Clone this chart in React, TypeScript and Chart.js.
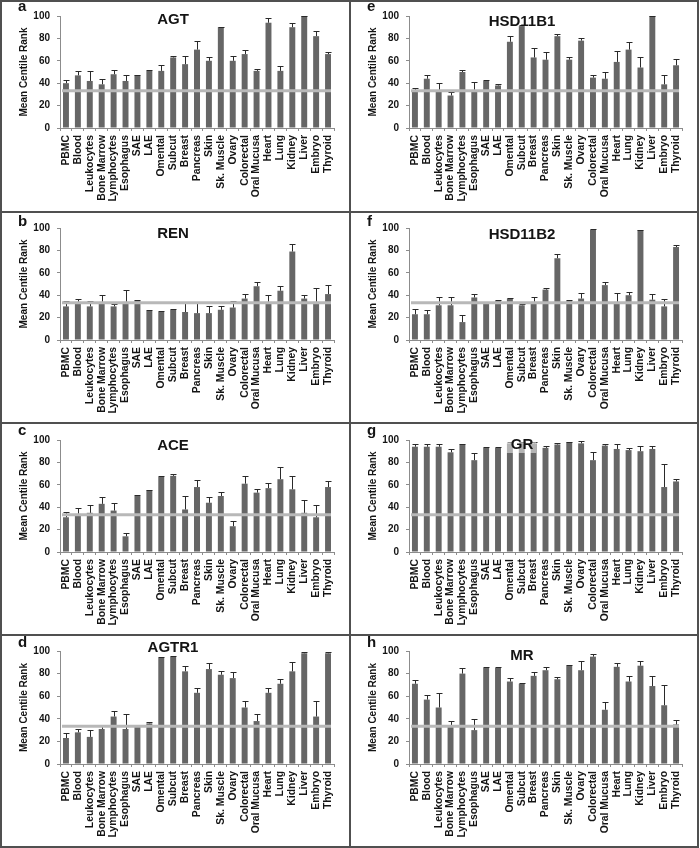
import React, { useEffect, useRef } from "react";
import { Chart, registerables } from "chart.js";
Chart.register(...registerables);

const tissues = ["PBMC", "Blood", "Leukocytes", "Bone Marrow", "Lymphocytes", "Esophagus", "SAE", "LAE", "Omental", "Subcut", "Breast", "Pancreas", "Skin", "Sk. Muscle", "Ovary", "Colorectal", "Oral Mucusa", "Heart", "Lung", "Kidney", "Liver", "Embryo", "Thyroid"];
const yTickStep = 20;
const yMax = 100;
const baselineValue = 33.3;

const agtMean = [40, 47, 42, 39, 48, 42, 47, 51, 51, 63, 57, 70, 60, 90, 60, 66, 51, 94, 51, 90, 100, 82, 66];
const agtUpper = [43, 51, 51, 44, 52, 47, 47.5, 51.5, 56, 64, 64, 78, 63, 90.5, 64, 70, 53, 98, 55, 94, 100, 87, 68];

const renMean = [30, 34, 30, 34, 30, 34, 35, 26, 25, 27, 25, 24, 24, 27, 29, 37, 48, 34, 44, 79, 37, 34, 41];
const renUpper = [35, 37, 35, 40, 32, 45, 35.5, 26.5, 25.5, 28, 33, 33, 30, 30, 35, 41, 52, 40, 48, 86, 40, 46, 49];

const aceMean = [31, 34, 35, 43, 37, 14, 50, 55, 67, 68, 38, 58, 44, 50, 23, 61, 53, 57, 65, 56, 35, 31, 58];
const aceUpper = [36, 39, 42, 49, 44, 17, 51, 55.5, 68, 70, 50, 64, 49, 54, 28, 68, 56, 62, 76, 68, 46, 42, 63];

const agtr1Mean = [23, 28, 24, 31, 42, 31, 33, 36, 94, 95, 82, 63, 84, 79, 76, 50, 38, 63, 71, 82, 98, 42, 98];
const agtr1Upper = [27, 31, 30, 34, 47, 44, 33.5, 37, 94.5, 95.5, 87, 67, 89, 82, 81, 56, 44, 67, 75, 90, 99, 56, 99];

const hsd11b1Mean = [33, 44, 33, 29, 50, 33, 42, 38, 77, 91, 63, 61, 82, 61, 78, 45, 44, 59, 70, 54, 100, 39, 56];
const hsd11b1Upper = [36, 47, 40, 32, 52, 41, 42.5, 39, 82, 92, 71, 68, 84, 63, 80, 47, 50, 69, 77, 63, 100, 47, 62];

const hsd11b2Mean = [23, 23, 31, 31, 16, 38, 33, 35, 37, 31, 34, 45, 73, 35, 37, 98.5, 49, 34, 40, 98, 36, 30, 83];
const hsd11b2Upper = [28, 27, 38, 38, 22, 41, 33.5, 36, 37.5, 32, 38, 46, 77, 35.5, 42, 99, 52, 42, 43, 98.5, 41, 37, 85];

const grMean = [94, 94, 94, 89, 96, 82, 93, 93, 97, 97, 97, 93, 96, 98, 97, 82, 95, 92, 91, 90, 92, 58, 63];
const grUpper = [96, 96, 96, 92, 96.5, 88, 93.5, 93.5, 98, 98, 98, 95, 97, 98.5, 99, 89, 96, 96, 93, 95, 95, 79, 65];

const mrMean = [71, 57, 50, 34, 80, 30, 85, 85, 73, 71, 78, 83, 75, 87, 83, 95, 48, 86, 73, 87, 69, 52, 35];
const mrUpper = [74, 61, 63, 38, 85, 40, 85.5, 85.5, 76, 72, 81, 86, 77, 88, 91, 97, 55, 89, 78, 91, 78, 70, 39];

const FONT = "'Liberation Sans', Arial, sans-serif";
const BAR = "#666666";
const AXIS = "#8c8c8c";
const TEXT = "#141414";
const LINE = "#505050";

type PanelCfg = {
  letter: string; title: string; mean: number[]; upper: number[];
  col: number; row: number; titleY: number; letterY: number; titleBox: boolean;
};

const panels: PanelCfg[] = [
  { letter: "a", title: "AGT", mean: agtMean, upper: agtUpper, col: 0, row: 0, titleY: 17, letterY: 9, titleBox: false },
  { letter: "b", title: "REN", mean: renMean, upper: renUpper, col: 0, row: 1, titleY: 20, letterY: 13, titleBox: false },
  { letter: "c", title: "ACE", mean: aceMean, upper: aceUpper, col: 0, row: 2, titleY: 21, letterY: 11, titleBox: false },
  { letter: "d", title: "AGTR1", mean: agtr1Mean, upper: agtr1Upper, col: 0, row: 3, titleY: 11, letterY: 11, titleBox: false },
  { letter: "e", title: "HSD11B1", mean: hsd11b1Mean, upper: hsd11b1Upper, col: 1, row: 0, titleY: 19, letterY: 9, titleBox: false },
  { letter: "f", title: "HSD11B2", mean: hsd11b2Mean, upper: hsd11b2Upper, col: 1, row: 1, titleY: 21, letterY: 13, titleBox: false },
  { letter: "g", title: "GR", mean: grMean, upper: grUpper, col: 1, row: 2, titleY: 20, letterY: 11, titleBox: true },
  { letter: "h", title: "MR", mean: mrMean, upper: mrUpper, col: 1, row: 3, titleY: 19, letterY: 11, titleBox: false },
];

const rowTops = [0, 211, 422, 634, 846];
const plotTops = [14, 15, 16, 15];
const plotBottoms = [126, 127, 128, 128];
const colLefts = [0, 349, 697];

function Panel({ cfg }: { cfg: PanelCfg }) {
  const ref = useRef<HTMLCanvasElement>(null);
  const left = colLefts[cfg.col] + 2;
  const width = colLefts[cfg.col + 1] - colLefts[cfg.col] - 2;
  const top = rowTops[cfg.row] + 2;
  const height = rowTops[cfg.row + 1] - rowTops[cfg.row] - 2;
  const plotTop = plotTops[cfg.row];
  const plotBottom = plotBottoms[cfg.row];

  useEffect(() => {
    if (!ref.current) return;
    const overlay = {
      id: "overlay",
      afterDatasetsDraw(chart: any) {
        const ctx = chart.ctx;
        const ys = chart.scales.y;
        const meta = chart.getDatasetMeta(0);
        const area = chart.chartArea;
        ctx.save();
        // error bars
        ctx.strokeStyle = "#2a2a2a";
        ctx.lineWidth = 1;
        meta.data.forEach((bar: any, i: number) => {
          const x = Math.round(bar.x) + 0.5;
          const y0 = ys.getPixelForValue(cfg.mean[i]);
          const y1 = Math.round(ys.getPixelForValue(cfg.upper[i])) + 0.5;
          ctx.beginPath();
          ctx.moveTo(x, y0);
          ctx.lineTo(x, y1);
          ctx.moveTo(x - 3, y1);
          ctx.lineTo(x + 3, y1);
          ctx.stroke();
        });
        // reference line
        const yb = ys.getPixelForValue(baselineValue);
        ctx.strokeStyle = "#b8b8b8";
        ctx.lineWidth = 3;
        ctx.beginPath();
        ctx.moveTo(area.left + 2, yb);
        ctx.lineTo(area.right - 3, yb);
        ctx.stroke();
        // title
        ctx.font = `bold 15px ${FONT}`;
        const tw = ctx.measureText(cfg.title).width;
        const tx = 171;
        if (cfg.titleBox) {
          ctx.fillStyle = "rgba(255,255,255,0.5)";
          ctx.fillRect(tx - tw / 2 - 5, cfg.titleY - 9, tw + 8, 18);
        }
        ctx.fillStyle = TEXT;
        ctx.textAlign = "center";
        ctx.textBaseline = "middle";
        ctx.fillText(cfg.title, tx, cfg.titleY + 1);
        // panel letter
        ctx.font = `bold 15px ${FONT}`;
        ctx.textAlign = "left";
        ctx.textBaseline = "alphabetic";
        ctx.fillText(cfg.letter, 16, cfg.letterY);
        ctx.restore();
      },
    };
    const tickFont = { family: FONT, weight: "bold" as const, size: 10 };
    const xFont = { family: FONT, weight: "bold" as const, size: 10.4 };
    const chart = new Chart(ref.current, {
      type: "bar",
      data: {
        labels: tissues,
        datasets: [{ data: cfg.mean, backgroundColor: BAR, barPercentage: 0.5, categoryPercentage: 1 }],
      },
      options: {
        animation: false,
        responsive: false,
        devicePixelRatio: 1,
        layout: { padding: { top: plotTop, right: 15, left: 0, bottom: 0 } },
        plugins: { legend: { display: false }, tooltip: { enabled: false }, title: { display: false } },
        scales: {
          x: {
            grid: { offset: true, drawOnChartArea: false, drawTicks: true, tickLength: 3, color: AXIS },
            border: { color: AXIS, width: 1 },
            ticks: { autoSkip: false, maxRotation: 90, minRotation: 90, padding: 4, color: TEXT, font: xFont },
            afterFit: (s: any) => { s.height = height - plotBottom; },
          },
          y: {
            min: 0,
            max: yMax,
            grid: { drawOnChartArea: false, drawTicks: true, tickLength: 3, color: AXIS },
            border: { color: AXIS, width: 1 },
            ticks: { stepSize: yTickStep, padding: 7, color: TEXT, font: tickFont },
            title: { display: true, text: "Mean Centile Rank", color: TEXT, font: tickFont, padding: { top: 16, bottom: 0 } },
            afterFit: (s: any) => { s.width = 58; },
          },
        },
      },
      plugins: [overlay],
    } as any);
    return () => chart.destroy();
  }, []);

  return (
    <canvas
      ref={ref}
      width={width}
      height={height}
      style={{ position: "absolute", left, top, width, height }}
    />
  );
}

export default function App() {
  useEffect(() => {
    document.body.style.margin = "0";
  }, []);
  const lines: React.ReactNode[] = [];
  colLefts.forEach((x, i) =>
    lines.push(<div key={"v" + i} style={{ position: "absolute", left: x, top: 0, width: 2, height: 848, background: LINE }} />)
  );
  rowTops.forEach((y, i) =>
    lines.push(<div key={"h" + i} style={{ position: "absolute", left: 0, top: y, width: 699, height: 2, background: LINE }} />)
  );
  return (
    <div style={{ position: "absolute", left: 0, top: 0, width: 700, height: 848, background: "#fff" }}>
      {panels.map((p) => (
        <Panel key={p.letter} cfg={p} />
      ))}
      {lines}
    </div>
  );
}
